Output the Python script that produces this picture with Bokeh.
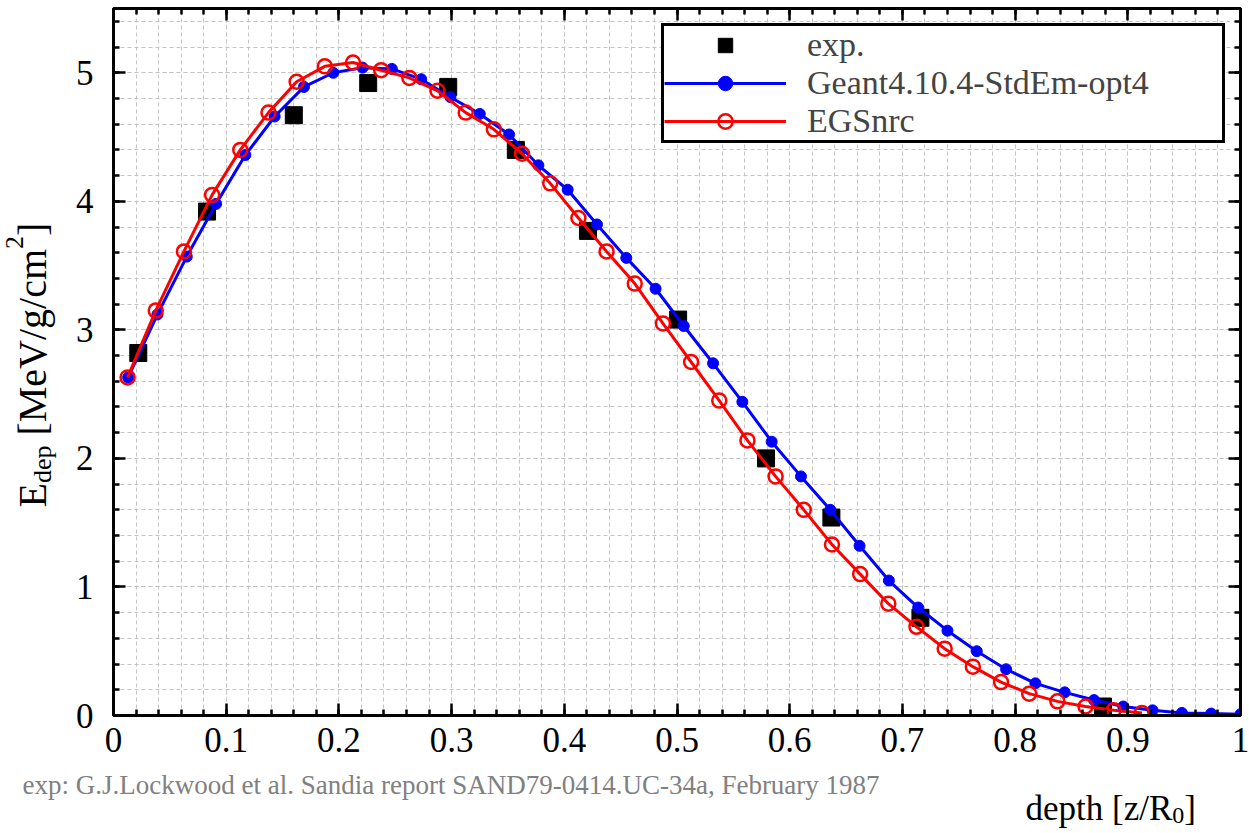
import math
from bokeh.plotting import figure
from bokeh.layouts import column, row
from bokeh.models import Range1d, LinearAxis, FixedTicker, Legend, LegendItem
from bokeh.core.properties import value
from bokeh.embed import file_html
from bokeh.resources import INLINE

# ---------------- data ----------------
exp_x = [0.022, 0.083, 0.160, 0.226, 0.297, 0.357, 0.421, 0.501, 0.579, 0.637, 0.716, 0.878]
exp_y = [2.82, 3.92, 4.67, 4.92, 4.89, 4.40, 3.77, 3.08, 2.00, 1.54, 0.76, 0.07]

g4_x = [0.013, 0.039, 0.065, 0.091, 0.117, 0.143, 0.169, 0.195, 0.221, 0.247,
        0.273, 0.299, 0.325, 0.351, 0.377, 0.403, 0.429, 0.455, 0.481, 0.506,
        0.532, 0.558, 0.584, 0.610, 0.636, 0.662, 0.688, 0.714, 0.740, 0.766,
        0.792, 0.818, 0.844, 0.870, 0.896, 0.922, 0.948, 0.974, 1.000]
g4_y = [2.63, 3.12, 3.57, 3.98, 4.36, 4.66, 4.89, 5.00, 5.04, 5.03,
        4.95, 4.81, 4.68, 4.52, 4.28, 4.09, 3.82, 3.56, 3.32, 3.03,
        2.74, 2.44, 2.13, 1.86, 1.60, 1.32, 1.05, 0.84, 0.66, 0.50,
        0.36, 0.25, 0.18, 0.12, 0.07, 0.04, 0.02, 0.015, 0.01]

egs_x = [0.0125, 0.0375, 0.0625, 0.0875, 0.1125, 0.1375, 0.1625, 0.1875, 0.2125, 0.2375,
         0.2625, 0.2875, 0.3125, 0.3375, 0.3625, 0.3875, 0.4125, 0.4375, 0.4625, 0.4875,
         0.5125, 0.5375, 0.5625, 0.5875, 0.6125, 0.6375, 0.6625, 0.6875, 0.7125, 0.7375,
         0.7625, 0.7875, 0.8125, 0.8375, 0.8625, 0.8875, 0.9125]
egs_y = [2.63, 3.15, 3.61, 4.05, 4.40, 4.69, 4.93, 5.05, 5.08, 5.02,
         4.96, 4.86, 4.69, 4.56, 4.37, 4.14, 3.87, 3.61, 3.36, 3.05,
         2.75, 2.45, 2.14, 1.86, 1.60, 1.33, 1.10, 0.87, 0.69, 0.52,
         0.38, 0.26, 0.17, 0.11, 0.07, 0.04, 0.02]

x_ticks = [0.0, 0.1, 0.2, 0.3, 0.4, 0.5, 0.6, 0.7, 0.8, 0.9, 1.0]
x_tick_labels = ["0", "0.1", "0.2", "0.3", "0.4", "0.5", "0.6", "0.7", "0.8", "0.9", "1"]
y_ticks = [0, 1, 2, 3, 4, 5]
y_tick_labels = ["0", "1", "2", "3", "4", "5"]

series_labels = ["exp.", "Geant4.10.4-StdEm-opt4", "EGSnrc"]
footnote = "exp: G.J.Lockwood et al. Sandia report SAND79-0414.UC-34a, February 1987"

# ---------------- page geometry ----------------
FONT = "Liberation Serif"
GRID = "#c4c4c4"
W, H = 1249, 833
FL, FR, FT, FB = 113, 1240, 8, 715  # frame edges on the page (px)
L = 64      # width of the strip holding the y title
HM = 770    # height of the upper row (strip + main plot)
BSHIFT = 12  # text glyph baseline correction (px, in text "down" direction)

# ---------------- main plot ----------------
p = figure(width=W - L, height=HM, x_range=Range1d(0, 1), y_range=Range1d(0, 5.5),
           output_backend="svg", toolbar_location=None, title=None,
           min_border_left=FL - L, min_border_right=W - FR, min_border_top=FT,
           min_border_bottom=HM - FB, background_fill_color="white",
           border_fill_color="white")
p.outline_line_color = "black"
p.outline_line_alpha = 1.0
p.outline_line_width = 3

x_minor = [round(i * 0.02, 2) for i in range(51)]
y_minor = [round(i * 0.2, 1) for i in range(28)]
xt = FixedTicker(ticks=x_ticks, minor_ticks=x_minor)
yt = FixedTicker(ticks=y_ticks, minor_ticks=y_minor)


def style_axis(ax, ticker, labels, show):
    ax.ticker = ticker
    ax.axis_line_width = 3
    ax.axis_line_color = "black"
    ax.major_tick_in = 12
    ax.major_tick_out = 0
    ax.minor_tick_in = 6
    ax.minor_tick_out = 0
    ax.major_tick_line_width = 2.5
    ax.minor_tick_line_width = 2.5
    ax.major_tick_line_color = "black"
    ax.minor_tick_line_color = "black"
    if show:
        ax.major_label_overrides = labels
        ax.major_label_text_font = FONT
        ax.major_label_text_font_size = "35px"
        ax.major_label_text_color = "black"
    else:
        ax.major_label_text_color = None
        ax.major_label_text_font_size = "1px"
        ax.major_label_standoff = 0


xlab = {t: s for t, s in zip(x_ticks, x_tick_labels)}
ylab = {t: s for t, s in zip(y_ticks, y_tick_labels)}

style_axis(p.xaxis[0], xt, xlab, True)
p.xaxis[0].major_label_standoff = 12
style_axis(p.yaxis[0], yt, ylab, True)
p.yaxis[0].major_label_standoff = 20

top = LinearAxis()
style_axis(top, xt, xlab, False)
right = LinearAxis()
style_axis(right, yt, ylab, False)
p.add_layout(top, "above")
p.add_layout(right, "right")

for g, t in ((p.xgrid[0], xt), (p.ygrid[0], yt)):
    g.ticker = t
    g.grid_line_color = GRID
    g.grid_line_dash = "4 3"
    g.grid_line_width = 1
    g.minor_grid_line_color = GRID
    g.minor_grid_line_dash = "4 3"
    g.minor_grid_line_width = 1

sq = p.scatter(exp_x, exp_y, marker="square", size=17, fill_color="black", line_color="black")
bl = p.line(g4_x, g4_y, line_color="blue", line_width=3)
bs = p.scatter(g4_x, g4_y, marker="circle", size=11, fill_color="blue", line_color="blue")
rl = p.line(egs_x, egs_y, line_color="red", line_width=3)
rs = p.scatter(egs_x, egs_y, marker="circle", size=14, fill_color=None, line_color="red", line_width=2.5)

legend = Legend(items=[LegendItem(label=series_labels[0], renderers=[sq]),
                       LegendItem(label=series_labels[1], renderers=[bl, bs]),
                       LegendItem(label=series_labels[2], renderers=[rl, rs])],
                location="top_right", margin=15, padding=0, spacing=0,
                glyph_width=122, glyph_height=36, label_standoff=21, label_width=415,
                label_text_font=FONT, label_text_font_size="34px",
                border_line_color="black", border_line_width=3, border_line_alpha=1.0,
                background_fill_color="white", background_fill_alpha=1.0)
p.add_layout(legend)

# ---------------- text strips (titles and note) ----------------
WID = {' ': 250, '[': 333, ']': 333, '/': 278, '.': 250, 'a': 444, 'c': 444, 'd': 500,
       'e': 444, 'g': 500, 'h': 500, 'm': 778, 'n': 500, 'o': 500, 'p': 500, 'r': 333,
       't': 278, 'z': 444, 'E': 611, 'M': 889, 'R': 667, 'V': 722, '0': 500, '2': 500}


def tw(s, fs):
    return sum(WID[c] for c in s) * fs / 1000.0


def blank(w, h, y0, y1, bt, bb):
    f = figure(width=w, height=h, x_range=Range1d(0, w), y_range=Range1d(y0, y1),
               output_backend="svg", toolbar_location=None, title=None,
               x_axis_type=None, y_axis_type=None,
               min_border_left=0, min_border_right=0, min_border_top=bt, min_border_bottom=bb,
               background_fill_color="white", border_fill_color="white")
    f.outline_line_color = None
    f.xgrid.visible = False
    f.ygrid.visible = False
    return f


def put(f, x, y, txt, fs, color="black", angle=0.0):
    f.text(x=[x], y=[y], text=[txt], angle=angle, text_font=value(FONT),
           text_font_size=value(f"{fs}px"), text_color=color,
           text_align="left", text_baseline="alphabetic")


# y title strip: page x 0..L; its frame is kept aligned with the main frame (y FT..FB)
left = blank(L, HM, HM - FB, HM - FT, FT, HM - FB)
F, f = 40, 26
ypieces = [("E", F, 0), ("dep", f, 10), (" [MeV/g/cm", F, 0), ("2", f, -18), ("]", F, 0)]
base_x, py0 = 44 - BSHIFT, 507
pos = 0.0
for txt, fs, dx in ypieces:
    lead = len(txt) - len(txt.lstrip(" "))
    pos += tw(" " * lead, fs)
    body = txt.lstrip(" ")
    put(left, base_x + dx, HM - (py0 - pos), body, fs, angle=math.pi / 2)
    pos += tw(body, fs)

# bottom strip (page y HM..H)
HB = H - HM
bottom = blank(W, HB, 0, HB, 0, 0)
put(bottom, 22, HB - (796 - BSHIFT - HM), footnote, 27, color="#808080")
F2, f2 = 35, 24
xpieces = [("depth [z/R", F2, 0), ("0", f2, 7), ("]", F2, 0)]
px0, base_y = 1025, 820 - BSHIFT
pos = 0.0
for txt, fs, dy in xpieces:
    put(bottom, px0 + pos, HB - (base_y + dy - HM), txt, fs)
    pos += tw(txt, fs)

page = column(row(left, p, spacing=0), bottom, spacing=0)
open("out.html", "w").write(file_html(page, INLINE))
